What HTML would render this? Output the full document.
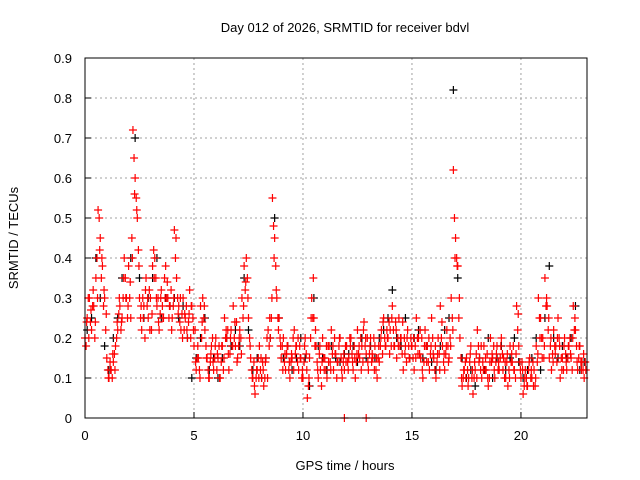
<!DOCTYPE html>
<html><head><meta charset="utf-8"><style>
body{margin:0;background:#fff;font-family:"Liberation Sans",sans-serif}
svg{display:block}
text{font-family:"Liberation Sans",sans-serif;font-size:13px;fill:#000}
</style></head><body>
<svg id="chart" width="640" height="480" xmlns="http://www.w3.org/2000/svg">
<text x="345" y="32" text-anchor="middle">Day 012 of 2026, SRMTID for receiver bdvl</text>
<text x="345" y="470" text-anchor="middle">GPS time / hours</text>
<text transform="translate(18,238) rotate(-90)" text-anchor="middle">SRMTID / TECUs</text>
<g id="grid"></g>
<g id="marks"></g>
<rect x="85" y="58" width="502" height="360" fill="none" stroke="#000" stroke-width="1"/>
</svg>
<script>
const xTicks=[0,5,10,15,20];
const yTicks=[0,0.1,0.2,0.3,0.4,0.5,0.6,0.7,0.8,0.9];
const yTickLabels=["0","0.1","0.2","0.3","0.4","0.5","0.6","0.7","0.8","0.9"];
const redStep=0.1;
const redA=[.20,.25,.30,.22,.28,.35,.52,.45,.38,.30,
.15,.10,.12,.14,.18,.22,.28,.25,.40,.30,
.38,.25,.72,.60,.50,.30,.22,.28,.35,.25,
.30,.38,.40,.28,.22,.32,.25,.38,.30,.28,
.25,.47,.35,.28,.22,.30,.25,.20,.32,.28,
.18,.12,.15,.28,.30,.22,.15,.10,.18,.12,
.20,.15,.10,.18,.25,.20,.12,.22,.28,.18,
.15,.22,.30,.38,.40,.25,.15,.10,.06,.12,
.18,.10,.08,.15,.22,.20,.55,.45,.30,.25,
.15,.20,.12,.18,.10,.15,.22,.18,.12,.15,
.10,.20,.05,.15,.30,.25,.18,.10,.12,.20,
.15,.10,.18,.22,.12,.16,.14,.20,.10,.12,
.18,.15,.20,.12,.10,.22,.15,.18,.24,.16,
.12,.20,.15,.18,.10,.14,.22,.25,.18,.20,
.22,.28,.18,.15,.25,.20,.12,.18,.22,.15,
.18,.12,.25,.20,.15,.10,.22,.18,.12,.25,
.15,.10,.20,.28,.18,.12,.22,.15,.30,.62,
.45,.38,.20,.08,.12,.15,.10,.18,.06,.12,
.22,.15,.10,.18,.12,.08,.20,.15,.10,.18,
.12,.20,.15,.10,.08,.18,.14,.12,.28,.18,
.10,.06,.12,.08,.15,.10,.12,.18,.30,.25,
.20,.35,.28,.15,.12,.22,.18,.25,.10,.15,
.20,.12,.18,.15,.28,.22,.12,.18,.14,.10];
const redB=[.18,.30,.24,.28,.20,.40,.50,.35,.28,.22,
.12,.14,.10,.16,.20,.26,.22,.30,.35,.25,
.30,.45,.65,.55,.42,.25,.30,.20,.28,.32,
.22,.42,.35,.30,.26,.28,.35,.30,.25,.32,
.28,.40,.30,.24,.26,.22,.28,.24,.20,.25,
.22,.15,.12,.20,.25,.18,.12,.14,.20,.15,
.12,.18,.14,.12,.20,.22,.16,.18,.20,.24,
.18,.20,.25,.32,.35,.20,.12,.14,.10,.15,
.12,.14,.10,.20,.18,.25,.48,.38,.25,.20,
.18,.14,.16,.12,.14,.20,.16,.14,.18,.10,
.14,.16,.08,.20,.25,.18,.14,.16,.08,.15,
.12,.18,.14,.16,.20,.10,.18,.15,.14,.18,
.14,.20,.16,.18,.14,.16,.20,.14,.18,.20,
.16,.14,.20,.12,.15,.18,.16,.20,.22,.24,
.18,.22,.24,.20,.18,.16,.20,.14,.18,.20,
.15,.18,.20,.16,.20,.14,.18,.14,.16,.20,
.12,.14,.16,.20,.14,.16,.18,.20,.25,.50,
.40,.25,.15,.10,.14,.12,.14,.10,.10,.16,
.18,.12,.14,.12,.16,.10,.14,.18,.14,.12,
.15,.16,.10,.14,.12,.14,.18,.10,.22,.14,
.14,.08,.10,.12,.10,.14,.08,.14,.25,.20,
.15,.28,.22,.18,.16,.18,.14,.20,.15,.12,
.16,.15,.20,.12,.22,.18,.15,.14,.12,.14];
const redC=[.24,.20,.27,.32,.24,.30,.42,.40,.32,.26,
.10,.12,.16,.12,.24,.30,.24,.35,.30,.28,
.34,.40,.56,.52,.38,.28,.25,.32,.30,.22,
.26,.35,.30,.24,.30,.25,.30,.34,.28,.22,
.30,.45,.26,.30,.20,.26,.22,.26,.28,.22,
.14,.18,.10,.24,.28,.15,.10,.16,.14,.18,
.16,.10,.18,.15,.22,.16,.20,.18,.24,.14,
.20,.16,.28,.34,.30,.18,.10,.08,.12,.10,
.15,.12,.14,.10,.25,.30,.40,.32,.22,.18,
.12,.16,.18,.14,.16,.12,.18,.20,.15,.12,
.18,.12,.10,.25,.35,.22,.12,.18,.14,.12,
.18,.14,.12,.18,.16,.14,.20,.12,.16,.14,
.12,.18,.14,.15,.16,.18,.12,.22,.20,.14,
.18,.16,.12,.15,.18,.20,.24,.18,.20,.16,
.25,.18,.22,.18,.20,.24,.16,.20,.15,.18,
.20,.15,.16,.22,.12,.18,.14,.20,.18,.16,
.18,.16,.12,.24,.16,.18,.14,.18,.22,.40,
.38,.30,.10,.12,.10,.08,.16,.12,.14,.10,
.14,.18,.12,.15,.10,.14,.16,.12,.16,.14,
.18,.12,.14,.16,.10,.16,.12,.16,.26,.12,
.12,.10,.08,.14,.12,.08,.10,.16,.20,.15,
.18,.30,.25,.20,.14,.16,.20,.18,.12,.18,
.14,.18,.16,.20,.25,.14,.18,.12,.16,.12];
const blackStep=0.2;
const black=[.22,.25,.40,.30,.18,.12,.20,.25,.35,.30,
.40,.70,.35,.25,.30,.35,.40,.25,.30,.28,
.30,.25,.28,.20,.10,.15,.20,.25,.12,.15,
.10,.15,.20,.18,.22,.18,.35,.22,.12,.15,
.10,.15,.20,.50,.25,.15,.18,.12,.15,.20,
.15,.08,.30,.18,.15,.12,.18,.15,.14,.16,
.16,.18,.14,.20,.15,.18,.15,.20,.22,.25,
.32,.20,.18,.25,.15,.20,.22,.15,.18,.14,
.12,.18,.22,.25,.82,.35,.15,.10,.12,.08,
.15,.12,.20,.10,.15,.18,.12,.15,.20,.14,
.10,.12,.15,.20,.12,.25,.38,.20,.15,.18,
.15,.20,.28,.12,.14];
const zeroTimes=[11.9,12.9];
const zeroVals=[0,0];

const X0=85,X1=587,Y0=418,Y1=58,XMAX=23.03,YMAX=0.9;
const xs=t=>X0+(X1-X0)*t/XMAX;
const ys=v=>Y0-(Y0-Y1)*v/YMAX;
const NS="http://www.w3.org/2000/svg";
const grid=document.getElementById('grid'),marks=document.getElementById('marks');
function mk(tag,attrs,parent){const e=document.createElementNS(NS,tag);for(const k in attrs)e.setAttribute(k,attrs[k]);parent.appendChild(e);return e;}
xTicks.forEach(t=>{
  const x=xs(t);
  if(t>0){const g=mk('line',{x1:x,x2:x,y1:Y1,y2:Y0,stroke:'#a0a0a0','stroke-dasharray':'2,3'},grid);
  
  }
  const tk=mk('line',{x1:x,x2:x,y1:Y0,y2:Y0-6,stroke:'#000'},grid);
  
  
  const tx=mk('text',{x:x,y:Y0+22,'text-anchor':'middle'},grid);tx.textContent=t;
  
  
});
yTicks.forEach((v,i)=>{
  const y=ys(v);
  if(v>0&&v<YMAX){const g=mk('line',{x1:X0,x2:X1,y1:y,y2:y,stroke:'#a0a0a0','stroke-dasharray':'2,3'},grid);
  
  }
  const tk=mk('line',{x1:X0,x2:X0+6,y1:y,y2:y,stroke:'#000'},grid);
  
  
  const tx=mk('text',{x:X0-13,y:y+5,'text-anchor':'end'},grid);tx.textContent=yTickLabels[i];
  
  
});
function plus(t,v,c,name){
  const x=xs(t),y=ys(v);
  const p=mk('path',{d:`M${x-4},${y}H${x+4}M${x},${y-4}V${y+4}`,stroke:c,'stroke-width':1.2,fill:'none'},marks);
  
  
}
black.forEach((v,i)=>plus(0.1+i*blackStep,v,'#000','black-point'));
redA.forEach((v,i)=>plus(i*redStep,v,'#f00','red-point'));
redB.forEach((v,i)=>plus(0.05+i*redStep,v,'#f00','red-point'));
redC.forEach((v,i)=>plus(0.075+i*redStep,v,'#f00','red-point'));
zeroTimes.forEach((t,i)=>plus(t,zeroVals[i],'#f00','red-point'));
</script>
</body></html>
